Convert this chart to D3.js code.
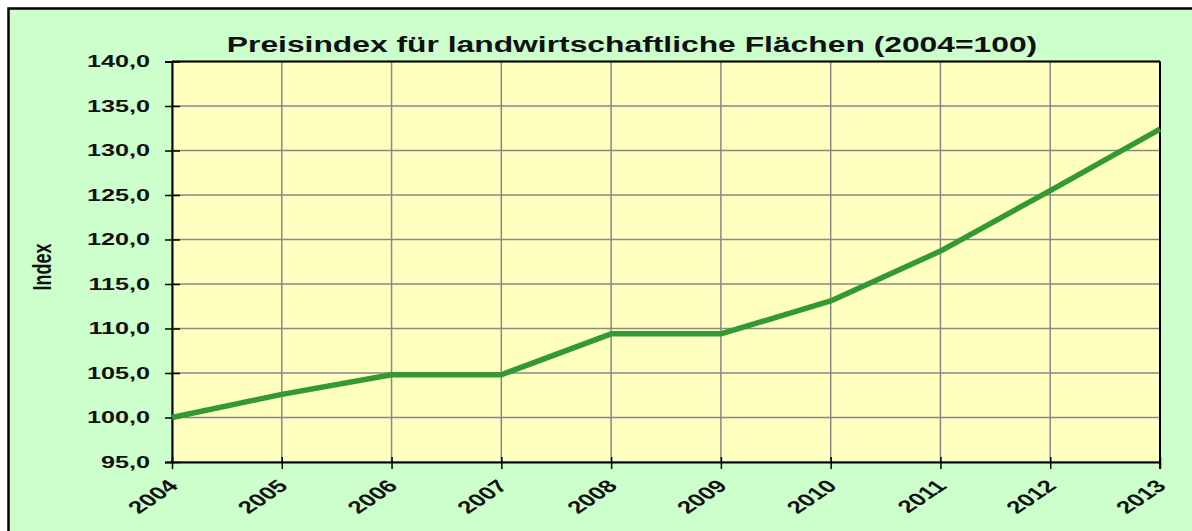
<!DOCTYPE html>
<html>
<head>
<meta charset="utf-8">
<script src="https://cdn.jsdelivr.net/npm/d3@7"></script>
<style>
  body { margin: 0; background: #fff; }
</style>
</head>
<body>
<div id="chart"></div>
<script>
// data
var years = [2004, 2005, 2006, 2007, 2008, 2009, 2010, 2011, 2012, 2013];
var index = [100.0, 102.6, 104.8, 104.8, 109.4, 109.4, 113.1, 118.7, 125.5, 132.4];
var yTicks = [95, 100, 105, 110, 115, 120, 125, 130, 135, 140];

var w = 1192,
    h = 531,
    font = "'Liberation Sans', Arial, sans-serif",
    stretch = 1.48,
    svg = d3.select("#chart")
            .append("svg")
            .attr("width", w)
            .attr("height", h),
    x = d3.scaleLinear().domain([2004, 2013]).range([172, 1160]),
    y = d3.scaleLinear().domain([95, 140]).range([462, 61.5]);

var fmt = function(d) { return d3.format(".1f")(d).replace(".", ","); };

// outer chart area
svg.append("rect")
    .attr("x", 8.5).attr("y", 8.5)
    .attr("width", w + 10).attr("height", h + 10)
    .attr("fill", "#ccffcc")
    .attr("stroke", "#000")
    .attr("stroke-width", 2.5);

// plot area
svg.append("rect")
    .attr("x", x(2004)).attr("y", y(140))
    .attr("width", x(2013) - x(2004))
    .attr("height", y(95) - y(140))
    .attr("fill", "#ffffc0");

// gridlines
svg.append("g")
    .selectAll("line")
    .data(yTicks)
    .enter().append("line")
    .attr("x1", x(2004)).attr("x2", x(2013))
    .attr("y1", function(d) { return y(d); })
    .attr("y2", function(d) { return y(d); })
    .attr("stroke", "#888")
    .attr("stroke-width", 1.5);

svg.append("g")
    .selectAll("line")
    .data(years)
    .enter().append("line")
    .attr("x1", function(d) { return x(d); })
    .attr("x2", function(d) { return x(d); })
    .attr("y1", y(140)).attr("y2", y(95))
    .attr("stroke", "#888")
    .attr("stroke-width", 1.5);

// y axis
var yAxis = svg.append("g")
    .attr("transform", "translate(" + x(2004) + ",0)")
    .call(d3.axisLeft(y).tickValues(yTicks).tickFormat(fmt).tickSize(7));
yAxis.select(".domain").attr("stroke", "#000").attr("stroke-width", 2);
yAxis.selectAll(".tick line").attr("x2", -7).attr("x1", 8)
    .attr("stroke", "#000").attr("stroke-width", 1.5);
yAxis.selectAll(".tick text")
    .attr("font-family", font)
    .attr("font-weight", "bold")
    .attr("font-size", 17)
    .attr("fill", "#111")
    .attr("x", 0)
    .attr("text-anchor", "end")
    .attr("transform", "translate(-22,0) scale(" + stretch + ",1)");

// x axis
var xAxis = svg.append("g")
    .attr("transform", "translate(0," + y(95) + ")")
    .call(d3.axisBottom(x).tickValues(years).tickFormat(d3.format("d")).tickSize(7).tickSizeOuter(0));
xAxis.select(".domain").attr("stroke", "#000").attr("stroke-width", 2);
xAxis.selectAll(".tick line").attr("y1", -5).attr("y2", 7)
    .attr("stroke", "#000").attr("stroke-width", 1.5);
xAxis.selectAll(".tick text")
    .attr("font-family", font)
    .attr("font-weight", "bold")
    .attr("font-size", 17.5)
    .attr("fill", "#111")
    .attr("text-anchor", "end")
    .attr("dy", null)
    .attr("y", 0)
    .attr("transform", "translate(7,25) scale(" + stretch + ",1) rotate(-45)");

// plot border top and right
svg.append("line")
    .attr("x1", x(2013)).attr("x2", x(2013))
    .attr("y1", y(140)).attr("y2", y(95) + 7)
    .attr("stroke", "#000").attr("stroke-width", 2);
svg.append("line")
    .attr("x1", x(2004)).attr("x2", x(2013))
    .attr("y1", y(140)).attr("y2", y(140))
    .attr("stroke", "#000").attr("stroke-width", 2);

// data line
var line = d3.line()
    .x(function(d, i) { return x(years[i]); })
    .y(function(d) { return y(d); });

svg.append("path")
    .datum(index)
    .attr("fill", "none")
    .attr("stroke", "#339933")
    .attr("stroke-width", 5.5)
    .attr("stroke-linejoin", "round")
    .attr("d", line);

// title
svg.append("text")
    .attr("transform", "translate(632,52) scale(" + stretch + ",1)")
    .attr("text-anchor", "middle")
    .attr("font-family", font)
    .attr("font-weight", "bold")
    .attr("font-size", 21.5)
    .attr("fill", "#111")
    .text("Preisindex für landwirtschaftliche Flächen (2004=100)");

// y axis title
svg.append("text")
    .attr("transform", "translate(51,267) scale(" + stretch + ",1) rotate(-90)")
    .attr("text-anchor", "middle")
    .attr("font-family", font)
    .attr("font-weight", "bold")
    .attr("font-size", 18)
    .attr("fill", "#111")
    .text("Index");
</script>
</body>
</html>
